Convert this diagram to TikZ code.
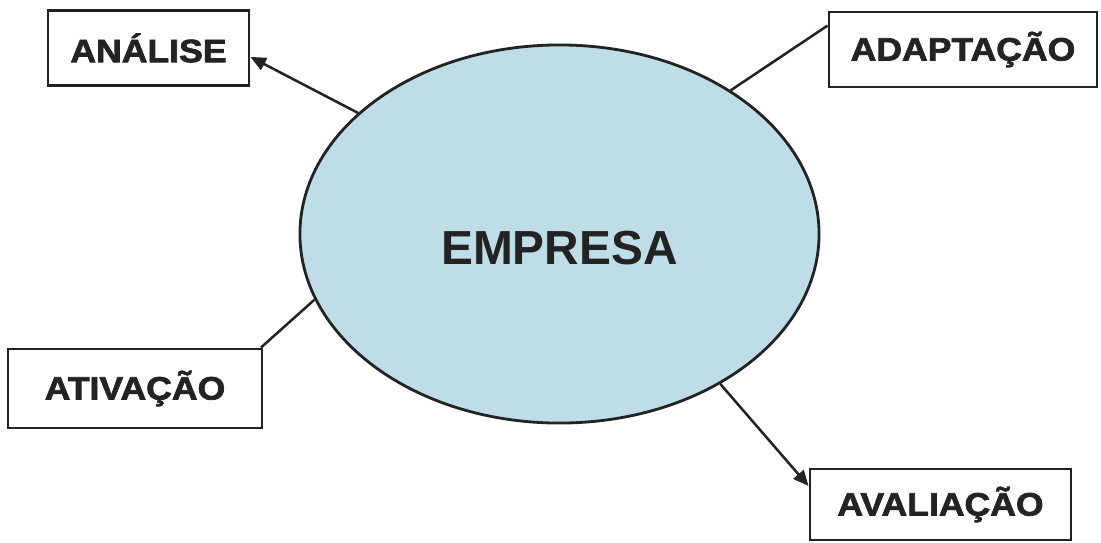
\documentclass[tikz,border=0pt]{standalone}
\usepackage{fontspec}
\setmainfont{Liberation Sans}
\newfontfamily\heavyfont{Liberation Sans}[BoldFeatures={FakeBold=2.2, FakeStretch=1.1}]
\usetikzlibrary{arrows.meta, shapes.geometric}
\definecolor{empfill}{RGB}{190,221,231}
\definecolor{inkcolor}{RGB}{35,35,35}
\tikzset{
  tagbox/.style = {draw=inkcolor, line width=2pt, fill=white, inner sep=0pt,
                   text=inkcolor, font=\heavyfont\bfseries\fontsize{23}{26}\selectfont},
  link/.style   = {line width=1.8pt, color=inkcolor},
  arrow/.style  = {link, -{Triangle[length=11pt, width=9.5pt]}},
}

\begin{document}
\begin{tikzpicture}[x=0.025cm, y=-0.025cm]
\useasboundingbox (0,0) rectangle (1101,542);

% ---------------- centre ----------------
\node[ellipse, draw=inkcolor, line width=2pt, fill=empfill, inner sep=0pt,
      minimum width=12.975cm, minimum height=9.45cm, text=inkcolor,
      text height=1.525cm, text depth=0pt,
      font=\bfseries\fontsize{34}{38}\selectfont] (emp) at (559.5,234) {EMPRESA};

% ---------------- boxes ----------------
\node[tagbox, minimum width=5.025cm, minimum height=1.875cm] (analise)   at (148.5,48)  {ANÁLISE};
\node[tagbox, minimum width=6.7cm,   minimum height=1.875cm] (adaptacao) at (963,49.5)  {ADAPTAÇÃO};
\node[tagbox, minimum width=6.35cm,  minimum height=1.975cm] (ativacao)  at (135,388.5) {ATIVAÇÃO};
\node[tagbox, minimum width=6.525cm, minimum height=1.775cm] (avaliacao) at (940.5,504.5) {AVALIAÇÃO};

% ---------------- links ----------------
\draw[arrow] (emp.149.4) -- (analise.-5);
\draw[link]  (emp.40.2)  -- (adaptacao.170.9);
\draw[link]  (emp.195.8) -- (ativacao.18.7);
\draw[arrow] (emp.317.1) -- (avaliacao.172.8);

\end{tikzpicture}
\end{document}
